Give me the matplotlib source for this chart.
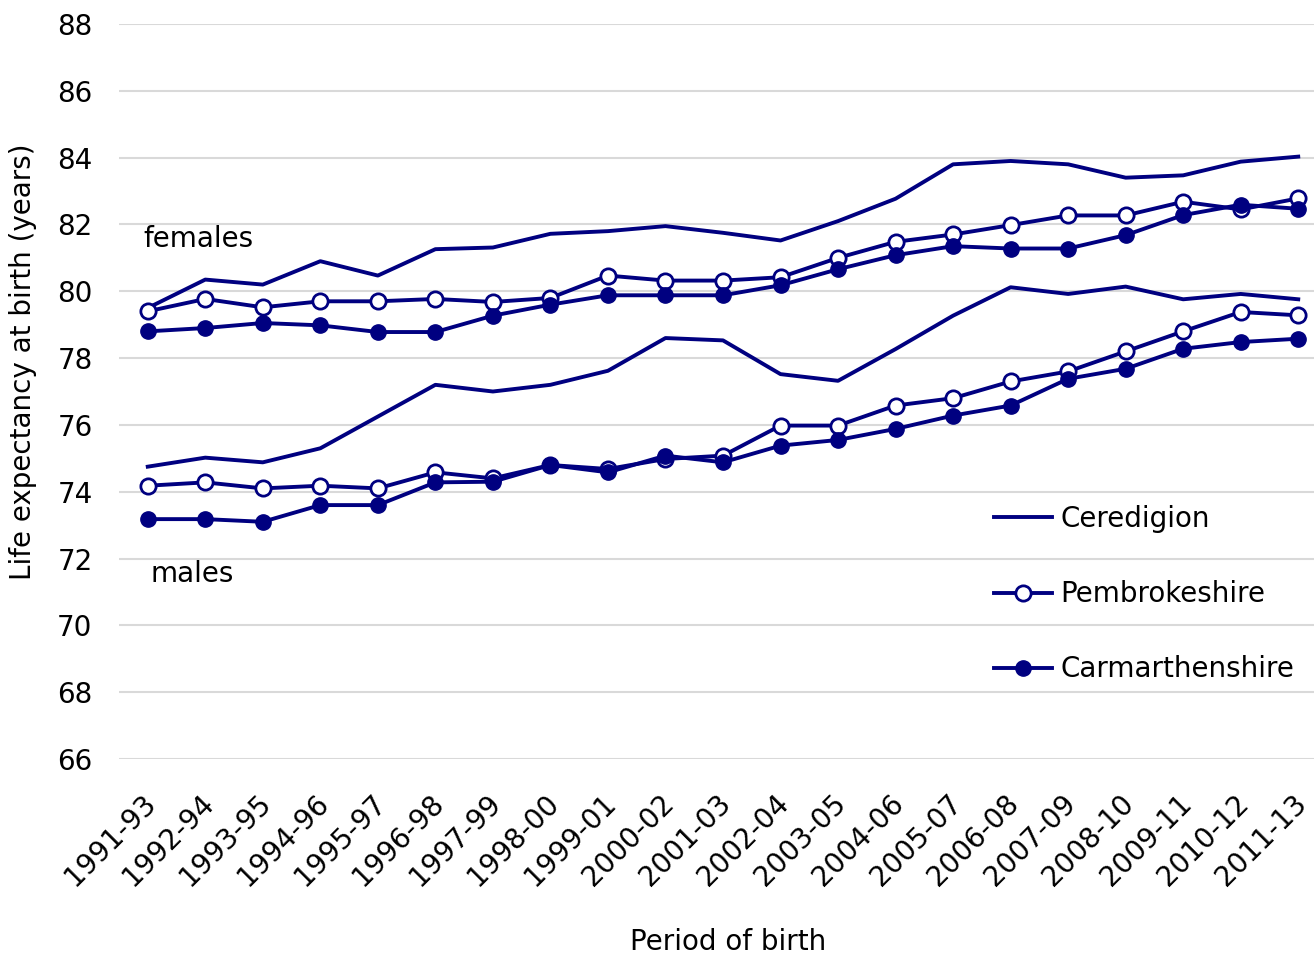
import matplotlib
matplotlib.use("Agg")
import matplotlib.pyplot as plt
from matplotlib.transforms import ScaledTranslation

periods = ["1991-93", "1992-94", "1993-95", "1994-96", "1995-97", "1996-98", "1997-99",
           "1998-00", "1999-01", "2000-02", "2001-03", "2002-04", "2003-05", "2004-06",
           "2005-07", "2006-08", "2007-09", "2008-10", "2009-11", "2010-12", "2011-13"]

ceredigion_f = [79.5, 80.35, 80.2, 80.9, 80.47, 81.26, 81.31, 81.72, 81.8, 81.95, 81.75,
                81.52, 82.1, 82.77, 83.8, 83.9, 83.8, 83.4, 83.47, 83.88, 84.03]
pembrokeshire_f = [79.4, 79.77, 79.52, 79.7, 79.7, 79.77, 79.68, 79.8, 80.47, 80.32, 80.32,
                   80.42, 81.0, 81.48, 81.7, 81.98, 82.27, 82.27, 82.68, 82.45, 82.78]
carmarthenshire_f = [78.8, 78.9, 79.05, 78.98, 78.78, 78.78, 79.27, 79.6, 79.88, 79.88, 79.88,
                     80.18, 80.66, 81.08, 81.35, 81.28, 81.28, 81.68, 82.28, 82.59, 82.47]

ceredigion_m = [74.75, 75.02, 74.88, 75.3, 76.25, 77.2, 77.0, 77.2, 77.62, 78.6, 78.53,
                77.52, 77.32, 78.27, 79.27, 80.12, 79.92, 80.14, 79.76, 79.92, 79.76]
pembrokeshire_m = [74.18, 74.28, 74.1, 74.18, 74.1, 74.58, 74.4, 74.8, 74.68, 74.98, 75.08,
                   75.98, 75.98, 76.58, 76.8, 77.3, 77.6, 78.2, 78.8, 79.38, 79.28]
carmarthenshire_m = [73.18, 73.18, 73.1, 73.6, 73.6, 74.28, 74.3, 74.8, 74.58, 75.08, 74.88,
                     75.38, 75.55, 75.88, 76.28, 76.58, 77.38, 77.68, 78.28, 78.48, 78.58]

y_ticks = list(range(66, 89, 2))

navy = "#000080"
plt.rcParams['font.family'] = ['DejaVu Sans']
fs = 20

fig = plt.figure(figsize=(13.14, 9.58), dpi=100)
ax = fig.add_axes([119 / 1314, 1 - 759 / 958, 1208 / 1314, 735 / 958])

x = list(range(len(periods)))
lw = 2.8
ms = 11
mew = 2.0
ax.plot(x, ceredigion_f, color=navy, lw=lw, label="Ceredigion", zorder=3)
ax.plot(x, pembrokeshire_f, color=navy, lw=lw, marker="o", ms=ms, mfc="white",
        mec=navy, mew=mew, label="Pembrokeshire", zorder=3)
ax.plot(x, carmarthenshire_f, color=navy, lw=lw, marker="o", ms=ms, mfc=navy,
        mec=navy, label="Carmarthenshire", zorder=3)
ax.plot(x, ceredigion_m, color=navy, lw=lw, zorder=3)
ax.plot(x, pembrokeshire_m, color=navy, lw=lw, marker="o", ms=ms, mfc="white",
        mec=navy, mew=mew, zorder=3)
ax.plot(x, carmarthenshire_m, color=navy, lw=lw, marker="o", ms=ms, mfc=navy,
        mec=navy, zorder=3)

ax.set_xlim(-0.5, len(periods) - 0.5)
ax.set_ylim(66, 88)
ax.set_yticks(y_ticks)
ax.set_yticklabels([str(v) for v in y_ticks], fontsize=fs)
ax.set_xticks(x)
ax.set_xticklabels(periods, rotation=45, ha="right", rotation_mode="anchor", fontsize=fs)
ax.tick_params(axis="both", length=0)
ax.tick_params(axis="y", pad=19)
ax.tick_params(axis="x", pad=22)
offset = ScaledTranslation(-6 / 100, 0, fig.dpi_scale_trans)
for lab in ax.get_xticklabels():
    lab.set_transform(lab.get_transform() + offset)
ax.grid(axis="y", color="#d9d9d9", lw=1.5)
ax.set_axisbelow(True)
for s in ax.spines.values():
    s.set_visible(False)

ax.set_ylabel("Life expectancy at birth (years)", fontsize=fs)
ax.yaxis.set_label_coords(-(119 - 37) / 1208, (759 - 362) / 735)
fig.text(728 / 1314, 1 - 942 / 958, "Period of birth", fontsize=fs, ha="center", va="center")

ax.text(-0.08, 81.55, "females", fontsize=fs, ha="left", va="center")
ax.text(0.05, 71.55, "males", fontsize=fs, ha="left", va="center")

leg = ax.legend(loc="upper left", bbox_to_anchor=(969 / 1314, 1 - 480 / 958),
                bbox_transform=fig.transFigure, frameon=False, fontsize=fs,
                handlelength=2.1, handletextpad=0.3, labelspacing=1.7)

fig.savefig("out.png", dpi=100)
